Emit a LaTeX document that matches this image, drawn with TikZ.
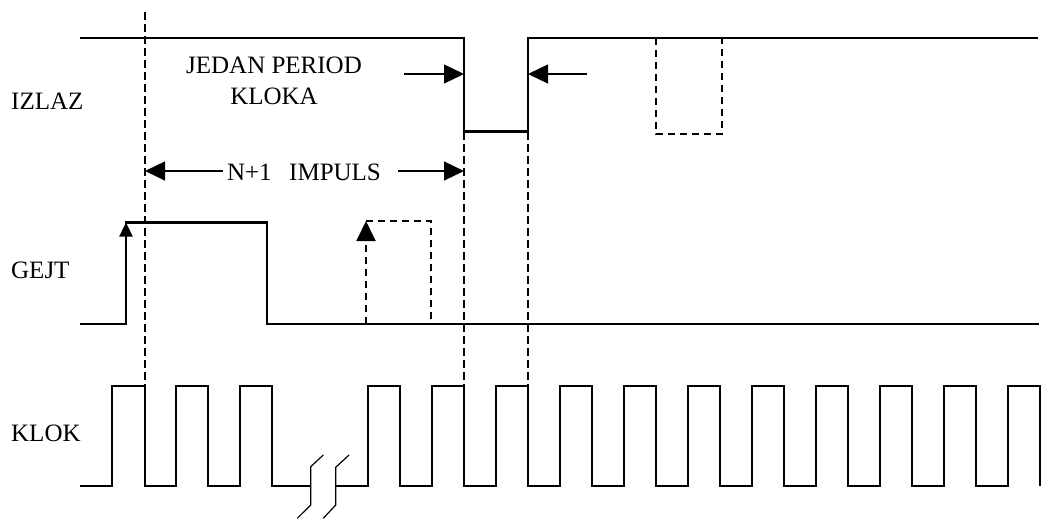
\documentclass[tikz,border=0pt]{standalone}
\usepackage{fontspec}
\setmainfont{Liberation Serif}
\usetikzlibrary{arrows.meta}
\begin{document}
\begin{tikzpicture}[x=1pt,y=-1pt,
  sig/.style={line width=2.3pt, line join=miter},
  dsig/.style={line width=1.9pt, dash pattern=on 7pt off 5pt},
  guide/.style={line width=1.8pt, dash pattern=on 8pt off 4pt},
  thinline/.style={line width=1.2pt},
  lbl/.style={font=\fontsize{25}{30}\selectfont, inner sep=0pt, anchor=base west},
  bigtip/.style={-{Triangle[length=20pt,width=19pt]}},
  smalltip/.style={-{Triangle[length=14pt,width=13pt]}}]
\useasboundingbox (0,0) rectangle (1042,519);
\def\ih{38}\def\il{131.5}
\def\gh{222.5}\def\gl{324}
\def\ch{385.7}\def\cl{485.7}

% labels
\node[lbl] (izlaz) at (11,110) {IZLAZ};
\node[lbl] (gejt) at (11,278.3) {GEJT};
\node[lbl] (klok) at (11,441.7) {KLOK};
\node[lbl, anchor=base] (jedan) at (274,74) {JEDAN PERIOD};
\node[lbl, anchor=base] (kloka) at (274,104) {KLOKA};
\node[lbl, anchor=base] (impuls) at (304,180) {N+1\hspace{0.7em}IMPULS};

% guide lines
\draw[guide] (145,12) -- (145,\ch);
\draw[guide] (464,\il) -- (464,\ch);
\draw[guide] (528,\il) -- (528,\ch);

% IZLAZ
\draw[sig] (80,\ih) -- (464,\ih) -- (464,\il) -- (528,\il) -- (528,\ih) -- (1038,\ih);
\draw[dsig] (656,\ih) -- (656,134) -- (722,134) -- (722,\ih);

% GEJT
\draw[sig] (80,\gl) -- (126,\gl) -- (126,\gh) -- (267,\gh) -- (267,\gl) -- (1039,\gl);
\draw[sig, smalltip] (126,300) -- (126,\gh);
\draw[dsig, bigtip] (366,\gl) -- (366,221);
\draw[dsig] (366,221) -- (431,221) -- (431,\gl);

% KLOK
\draw[sig] (80,\cl) -- (112,\cl) -- (112,\ch) -- (145,\ch) -- (145,\cl)
  -- (176,\cl) -- (176,\ch) -- (208,\ch) -- (208,\cl)
  -- (240,\cl) -- (240,\ch) -- (272,\ch) -- (272,\cl) -- (310.7,\cl);
\draw[sig] (335.7,\cl) -- (368,\cl) -- (368,\ch) -- (400,\ch) -- (400,\cl)
  -- (432,\cl) -- (432,\ch) -- (464,\ch) -- (464,\cl)
  -- (496,\cl) -- (496,\ch) -- (528,\ch) -- (528,\cl)
  foreach \r in {560,624,...,1008} { -- (\r,\cl) -- (\r,\ch) -- (\r+32,\ch) -- (\r+32,\cl) };

% break marks
\draw[thinline] (323.3,455) -- (310.7,466.7) -- (310.7,505) -- (297.3,518.3);
\draw[thinline] (349,455) -- (335.7,467.3) -- (335.7,505) -- (323.3,518.3);

% dimension arrows
\coordinate (jl) at (404,74);
\coordinate (jt) at (464,74);
\coordinate (kl) at (587,74);
\coordinate (kt) at (528,74);
\coordinate (nl) at (223,171);
\coordinate (nlt) at (145,171);
\coordinate (nr) at (398,171);
\coordinate (nrt) at (464,171);
\draw[thinline, bigtip] (jl) -- (jt);
\draw[thinline, bigtip] (kl) -- (kt);
\draw[thinline, bigtip] (nl) -- (nlt);
\draw[thinline, bigtip] (nr) -- (nrt);
\end{tikzpicture}
\end{document}
